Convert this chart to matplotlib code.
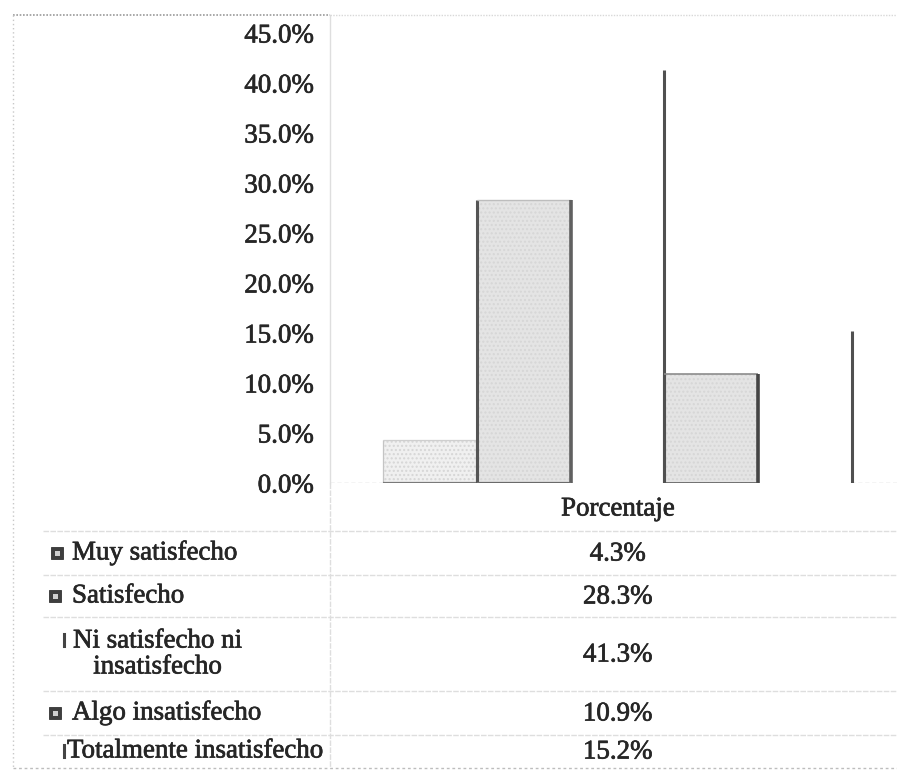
import numpy as np
import matplotlib
matplotlib.use("Agg")
import matplotlib.pyplot as plt
import matplotlib.patheffects as pe
from matplotlib.lines import Line2D
from matplotlib.patches import Rectangle

# Survey results: satisfaction level and share of respondents (%)
categories = [
    "Muy satisfecho",
    "Satisfecho",
    "Ni satisfecho ni\ninsatisfecho",
    "Algo insatisfecho",
    "Totalmente insatisfecho",
]
values = [4.3, 28.3, 41.3, 10.9, 15.2]
series_name = "Porcentaje"
y_ticks = [0, 5, 10, 15, 20, 25, 30, 35, 40, 45]

plt.rcParams["font.family"] = ["Liberation Serif", "DejaVu Serif"]

W, H = 897, 775
fig = plt.figure(figsize=(W / 100, H / 100), dpi=100)
fig.patch.set_facecolor("white")


def fx(px):
    return px / W


def fy(py):
    return 1 - py / H


TEXT = "#262626"
GRID = "#dedede"
FS = 19.4
HEAVY = [pe.withStroke(linewidth=0.5, foreground=TEXT)]

# ---- chart area -------------------------------------------------------
ax = fig.add_axes([fx(330), fy(483), (897 - 330) / W, (483 - 15) / H])
ax.set_xlim(-0.613, 0.596)
ax.set_ylim(0, 46.8)
for s in ["top", "right", "bottom"]:
    ax.spines[s].set_visible(False)
ax.spines["left"].set_color(GRID)
ax.spines["left"].set_linewidth(1.0)
ax.set_yticks(y_ticks)
ax.set_yticklabels([f"{t:.1f}%" for t in y_ticks], fontsize=FS, color=TEXT)
for lab in ax.get_yticklabels():
    lab.set_path_effects(HEAVY)
ax.tick_params(axis="y", length=0, pad=12)
ax.set_xticks([])

# baseline
ax.axhline(0, color="#c8c8c8", lw=1.0, ls=(0, (3, 2)), zorder=1)

width = 0.2
xpos = (np.arange(len(values)) - (len(values) - 1) / 2) * width
faces = ["#f0f0f0", "#e4e4e4", "white", "#e4e4e4", "white"]
bars = ax.bar(xpos, values, width=width, color=faces, linewidth=0, zorder=2)

# stippled texture on the shaded bars
for bar, fc in zip(bars, faces):
    if fc != "white":
        ax.add_patch(Rectangle((bar.get_x(), 0), bar.get_width(), bar.get_height(),
                               fill=False, hatch="....", edgecolor="#d6d6d6",
                               linewidth=0, zorder=2.5))

# bevelled edges drawn around each bar (left, top, right, bottom)
edge_styles = [
    [("#c4c4c4", 0.9), ("#cfcfcf", 0.9), ("#555555", 2.2), ("#7a7a7a", 1.6)],
    [("#555555", 2.2), ("#bdbdbd", 1.0), ("#606060", 2.6), ("#6a6a6a", 1.6)],
    [None, None, ("#505050", 2.2), None],
    [("#505050", 2.2), ("#8c8c8c", 1.2), ("#454545", 2.6), ("#505050", 1.8)],
    [None, None, ("#505050", 2.2), None],
]
for bar, styles in zip(bars, edge_styles):
    x0 = bar.get_x()
    x1 = x0 + bar.get_width()
    h = bar.get_height()
    segs = [([x0, x0], [0, h]), ([x0, x1], [h, h]), ([x1, x1], [0, h]), ([x0, x1], [0, 0])]
    for (xs, ys), st in zip(segs, styles):
        if st is None:
            continue
        ax.plot(xs, ys, color=st[0], lw=st[1], solid_capstyle="butt", zorder=3)

# ---- data table -------------------------------------------------------
def hline(py, x0=43, x1=897, color=GRID, lw=1.0, ls="-"):
    fig.add_artist(Line2D([fx(x0), fx(x1)], [fy(py), fy(py)], color=color, lw=lw, ls=ls))


def vline(px, y0, y1, color=GRID, lw=1.0, ls="-"):
    fig.add_artist(Line2D([fx(px), fx(px)], [fy(y0), fy(y1)], color=color, lw=lw, ls=ls))


for py in [531, 575, 617, 691, 735]:
    hline(py, ls=(0, (4, 1)))
vline(330, 483, 768, ls=(0, (4, 1)))

# the value column sits under the bar group
col_x = ax.transData.transform((xpos.mean(), 0))[0] / fig.bbox.width
fig.text(col_x, fy(509), series_name, ha="center", va="center", fontsize=FS,
         color=TEXT, path_effects=HEAVY)

row_y = [553, 596, 654, 713, 751]
label_x = [72, 72, 73, 72, 67]
icon_x = [57, 55, 62, 55, 62]
icon_kind = ["box", "box", "line", "box", "line"]
for cat, val, ry, lx, ix, kind in zip(categories, values, row_y, label_x, icon_x, icon_kind):
    fig.text(fx(lx), fy(ry), cat, ha="left", va="center", ma="center",
             fontsize=FS, color=TEXT, linespacing=1.05, path_effects=HEAVY)
    fig.text(col_x, fy(ry + 1), f"{val:.1f}%", ha="center", va="center",
             fontsize=FS, color=TEXT, path_effects=HEAVY)
    iy = ry - 14 if "\n" in cat else ry
    if kind == "box":
        fig.add_artist(Rectangle((fx(ix - 6), fy(iy + 6)), 12 / W, 12 / H,
                                 facecolor="#3e3e3e", edgecolor="#333333", lw=0.6))
        fig.add_artist(Rectangle((fx(ix - 2), fy(iy + 3)), 5 / W, 5 / H,
                                 facecolor="#cfcfcf", edgecolor="none"))
    else:
        fig.add_artist(Line2D([fx(ix + 2), fx(ix + 2)], [fy(iy - 6), fy(iy + 6)],
                              color="#444444", lw=2.2))

# ---- page frame ---------------------------------------------------------
fig.add_artist(Line2D([fx(13), fx(330)], [fy(15), fy(15)], color="#9a9a9a", lw=1.2, ls=(0, (1, 1))))
fig.add_artist(Line2D([fx(330), fx(897)], [fy(15), fy(15)], color="#d8d8d8", lw=1.0, ls=(0, (1, 1))))
vline(13, 15, 768, color="#c8c8c8", lw=1.0, ls=(0, (1, 2)))
fig.add_artist(Line2D([fx(13), fx(897)], [fy(768), fy(768)], color="#bdbdbd", lw=1.0, ls=(0, (2, 2))))

fig.savefig("out.png", dpi=100, facecolor="white")
